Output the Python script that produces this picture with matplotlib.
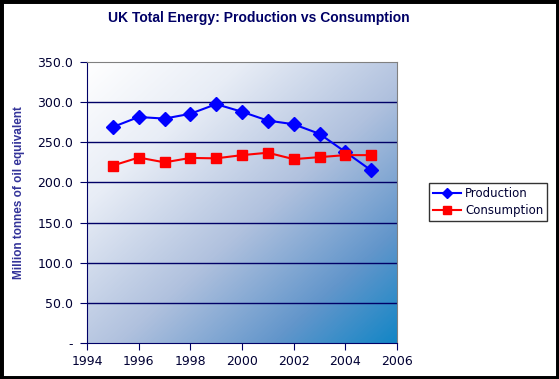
import numpy as np
import matplotlib.pyplot as plt
from matplotlib.colors import LinearSegmentedColormap
from matplotlib.patches import Rectangle

years = [1995, 1996, 1997, 1998, 1999, 2000, 2001, 2002, 2003, 2004, 2005]
production = [269, 281.5, 279.5, 285.5, 297.5, 288, 277, 272.5, 260.5, 238, 215]
consumption = [221, 231, 225, 230.5, 230, 234, 237, 229, 231.5, 234, 234]

navy = '#000066'
fig = plt.figure(figsize=(5.59, 3.79), dpi=100)
fig.patches.append(Rectangle((0, 0), 1, 1, transform=fig.transFigure,
                             fill=False, edgecolor='black', linewidth=5))
ax = fig.add_axes([87/559, 1 - 343/379, 310/559, 281/379])

# diagonal gradient background, white top-left to blue bottom-right
gx, gy = np.meshgrid(np.linspace(0, 1, 300), np.linspace(0, 1, 300))
grad = (gx + gy) / 2
cmap = LinearSegmentedColormap.from_list(
    'bg', [(0, '#ffffff'), (0.25, '#e8edf6'), (0.55, '#b0c1de'),
           (0.8, '#6396cb'), (1, '#1386c6')])
ax.imshow(grad, cmap=cmap, extent=[1994, 2006, 0, 350], aspect='auto',
          origin='upper', zorder=0)

for v in range(50, 301, 50):
    ax.axhline(v, color=navy, linewidth=1, zorder=1)

ax.plot(years, production, color='#0000ff', marker='D', markersize=7,
        linewidth=1.5, label='Production', zorder=3)
ax.plot(years, consumption, color='#ff0000', marker='s', markersize=7.5,
        linewidth=1.5, label='Consumption', zorder=3)

ax.set_xlim(1994, 2006)
ax.set_ylim(0, 350)
ax.set_xticks(range(1994, 2007, 2))
ax.set_yticks(range(0, 351, 50))
ax.set_yticklabels(['-'] + ['%.1f' % v for v in range(50, 351, 50)])
ax.tick_params(colors=navy, labelcolor='#000033', labelsize=9, direction='out', length=5)
ax.tick_params(axis='y', pad=5)
for s in ['top', 'right']:
    ax.spines[s].set_color('#808080')
for s in ['left', 'bottom']:
    ax.spines[s].set_color(navy)

ax.set_ylabel('Million tonnes of oil equivalent', color='#333399',
              fontweight='bold', fontsize=8.5, family='Liberation Sans')
ax.yaxis.set_label_coords(-0.2, 0.535)
fig.text(259/559, 1 - 18/379, 'UK Total Energy: Production vs Consumption',
         ha='center', va='center', color=navy, fontweight='bold',
         fontsize=10, family='Liberation Sans')

leg = ax.legend(loc='center left', bbox_to_anchor=(429/559, 1 - 202/379),
                bbox_transform=fig.transFigure, frameon=True, fancybox=False,
                fontsize=8.5, handlelength=2.4, handletextpad=0.3,
                borderpad=0.35, borderaxespad=0, labelspacing=0.3,
                markerscale=0.75)
leg.get_frame().set_edgecolor('black')
leg.get_frame().set_linewidth(1)
for t in leg.get_texts():
    t.set_color('#000033')

fig.savefig('out.png', dpi=100)
